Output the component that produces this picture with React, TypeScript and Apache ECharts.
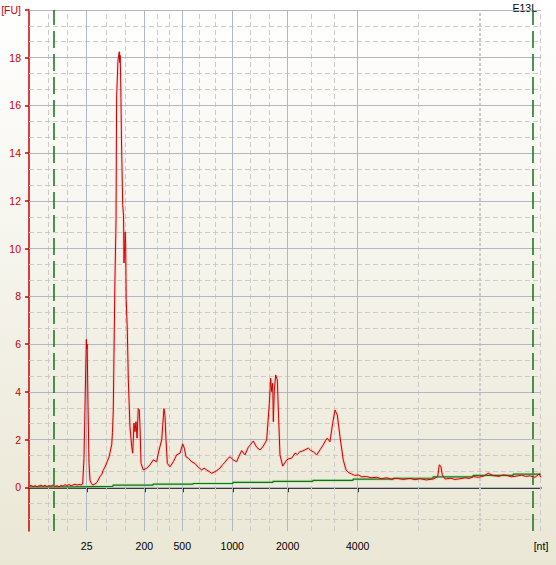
import React, { useEffect, useRef } from "react";
import * as echarts from "echarts";

// Migration time (s) and fluorescence (FU) of the sample trace
const traceTime = [
  17.0, 17.2, 17.39, 17.59, 17.78, 17.98, 18.17, 18.37, 18.56, 18.76, 18.95, 19.15, 19.34, 19.54, 19.73, 19.93,
  20.13, 20.32, 20.52, 20.71, 20.91, 21.11, 21.3, 21.5, 21.69, 21.88, 22.08, 22.24, 22.37, 22.52, 22.6, 22.65,
  22.68, 22.76, 22.86, 22.96, 23.1, 23.25, 23.44, 23.63, 23.93, 24.12, 24.23, 24.42, 24.61, 24.8, 24.91, 25.08,
  25.15, 25.23, 25.33, 25.39, 25.5, 25.53, 25.56, 25.69, 25.82, 25.86, 25.9, 25.94, 25.98, 26.03, 26.15, 26.23,
  26.28, 26.34, 26.39, 26.44, 26.49, 26.6, 26.7, 26.86, 27.03, 27.13, 27.25, 27.35, 27.45, 27.55, 27.67, 27.77,
  27.84, 27.94, 28.16, 28.49, 28.82, 29.14, 29.47, 29.63, 29.96, 30.18, 30.28, 30.38, 30.51, 30.77, 31.09, 31.42,
  31.75, 32.01, 32.17, 32.33, 32.56, 32.89, 33.21, 33.53, 33.87, 34.1, 34.35, 34.6, 34.84, 35.1, 35.33, 35.65,
  35.9, 36.14, 36.4, 36.63, 36.95, 37.28, 37.5, 37.77, 38.09, 38.42, 38.65, 38.9, 39.23, 39.56, 39.75, 39.95,
  40.21, 40.47, 40.6, 40.7, 40.8, 40.86, 40.96, 41.09, 41.25, 41.35, 41.51, 41.78, 42.17, 42.4, 42.65, 42.98,
  43.2, 43.46, 43.7, 43.95, 44.28, 44.5, 44.76, 45.1, 45.42, 45.74, 45.95, 46.13, 46.39, 46.66, 46.88, 47.11,
  47.37, 47.69, 47.96, 48.2, 48.51, 48.8, 49.16, 49.5, 49.98, 50.4, 50.96, 51.4, 51.93, 52.4, 52.91, 53.5,
  54.21, 54.7, 55.18, 55.8, 56.48, 56.91, 57.07, 57.21, 57.36, 57.63, 58.2, 58.6, 59.09, 59.6, 60.0, 60.39,
  60.9, 61.4, 61.85, 62.34, 62.9, 63.3, 63.65, 64.1, 64.63, 65.1, 65.5, 65.93, 66.41, 66.83, 66.98,
];
const traceFU = [
  0.05, 0.08, 0.03, 0.07, 0.02, 0.06, 0.09, 0.04, 0.08, 0.03, 0.07, 0.05, 0.1, 0.04, 0.06, 0.02,
  0.08, 0.05, 0.11, 0.07, 0.12, 0.06, 0.1, 0.13, 0.09, 0.12, 0.1, 0.14, 1.2, 4.5, 6.2, 5.8,
  6.0, 3.5, 1.0, 0.3, 0.15, 0.1, 0.14, 0.2, 0.45, 0.55, 0.7, 0.85, 1.05, 1.25, 1.45, 1.8,
  2.3, 3.2, 6.6, 8.6, 11.2, 14.0, 16.4, 17.9, 18.25, 17.8, 18.1, 17.4, 16.3, 14.6, 11.85, 11.4,
  9.4, 10.1, 10.7, 10.2, 7.9, 6.6, 4.5, 2.54, 1.7, 1.43, 2.69, 2.33, 2.75, 2.06, 3.3, 3.24,
  2.54, 1.0, 0.73, 0.8, 0.94, 1.15, 1.07, 1.43, 2.0, 3.3, 3.0, 2.0, 1.0, 0.86, 1.07, 1.36,
  1.43, 1.82, 1.64, 1.28, 1.22, 1.07, 1.0, 0.84, 0.73, 0.8, 0.73, 0.66, 0.59, 0.64, 0.7, 0.8,
  0.95, 1.05, 1.2, 1.28, 1.15, 1.07, 1.3, 1.54, 1.36, 1.68, 1.8, 1.94, 1.68, 1.57, 1.65, 1.78,
  1.98, 3.52, 4.57, 4.01, 4.36, 2.75, 4.08, 4.71, 4.5, 3.24, 1.36, 0.89, 1.15, 1.2, 1.22, 1.43,
  1.38, 1.49, 1.52, 1.57, 1.64, 1.55, 1.49, 1.36, 1.57, 1.78, 1.95, 2.06, 1.91, 2.69, 3.24, 3.03,
  2.12, 1.15, 0.73, 0.62, 0.56, 0.5, 0.52, 0.44, 0.45, 0.4, 0.42, 0.36, 0.4, 0.34, 0.38, 0.33,
  0.37, 0.32, 0.36, 0.31, 0.35, 0.45, 0.94, 0.89, 0.52, 0.35, 0.38, 0.33, 0.36, 0.4, 0.37, 0.45,
  0.42, 0.47, 0.59, 0.49, 0.46, 0.52, 0.5, 0.44, 0.47, 0.51, 0.46, 0.48, 0.42, 0.56, 0.42,
];

// Stepped baseline (green)
const baselineTime = [17.0, 21.3, 25.2, 29.11, 33.02, 36.92, 40.83, 44.73, 48.64, 52.55, 56.45, 60.36, 64.27, 66.98];
const baselineFU = [0.02, 0.04, 0.09, 0.13, 0.16, 0.21, 0.25, 0.29, 0.34, 0.38, 0.44, 0.5, 0.55, 0.55];

// Ladder positions on the time axis and their size labels (nt)
const ladderTimes = [22.63, 28.26, 31.97, 36.85, 42.26, 49.1];
const ladderLabels = ["25", "200", "500", "1000", "2000", "4000"];
const extraDashedTimes = [55.02, 66.97];
const dottedTimes = [61.04];
const markerTimes = [19.37, 66.15];
const yMajorTicks = [0, 2, 4, 6, 8, 10, 12, 14, 16, 18, 20];

const X_MIN = 17;
const X_MAX = 67;
const Y_MIN = -1.83;
const Y_MAX = 20;

const SOLID_GRID = "#B2B7C4";
const DASH_GRID = "#CBCBC8";
const FONT = '"Liberation Sans", Arial, sans-serif';

export default function App() {
  const ref = useRef<HTMLDivElement>(null);

  useEffect(() => {
    if (!ref.current) return;
    const chart = echarts.init(ref.current, undefined, { renderer: "svg" });

    const trace = traceTime.map((t, i) => [t, traceFU[i]]);
    const base = baselineTime.map((t, i) => [t, baselineFU[i]]);

    // vertical grid: thirds between ladder positions
    const bounds = [X_MIN, ...ladderTimes];
    const thirds: number[] = [];
    for (let i = 0; i < bounds.length - 1; i++) {
      const a = bounds[i];
      const b = bounds[i + 1];
      thirds.push(a + (b - a) / 3, a + (2 * (b - a)) / 3);
    }
    const hDashed: number[] = [];
    for (let k = -2; k <= 29; k++) {
      if (k % 3 !== 0) hDashed.push((k * 2) / 3);
    }

    const dashStyle = { color: DASH_GRID, type: [5, 3] as any, width: 1 };
    const solidStyle = { color: SOLID_GRID, type: "solid" as any, width: 1 };

    const gridLines: any[] = [
      ...hDashed.map((v) => ({ yAxis: v, lineStyle: dashStyle })),
      ...thirds.map((v) => ({ xAxis: v, lineStyle: dashStyle })),
      ...extraDashedTimes.map((v) => ({ xAxis: v, lineStyle: dashStyle })),
      ...dottedTimes.map((v) => ({ xAxis: v, lineStyle: { color: DASH_GRID, type: [3, 2], width: 2 } })),
      ...yMajorTicks.map((v) => ({ yAxis: v, lineStyle: solidStyle })),
      ...ladderTimes.map((v) => ({ xAxis: v, lineStyle: solidStyle })),
    ];

    const findLabel = (v: number) => {
      const i = ladderTimes.findIndex((t) => Math.abs(t - v) < 1e-6);
      if (i >= 0) return ladderLabels[i];
      if (Math.abs(v - X_MAX) < 1e-6) return "[nt]";
      return "";
    };

    chart.setOption({
      animation: false,
      backgroundColor: new echarts.graphic.LinearGradient(0, 0, 0, 1, [
        { offset: 0, color: "#FFFFFF" },
        { offset: 1, color: "#EAE7D5" },
      ]),
      grid: { left: 29, right: 15, top: 10, bottom: 34, containLabel: false, outerBoundsMode: "none" },
      xAxis: {
        type: "value",
        min: X_MIN,
        max: X_MAX,
        axisLine: { show: true, lineStyle: { color: "#000000", width: 1.5 } },
        axisTick: {
          show: true,
          length: 5,
          customValues: ladderTimes,
          lineStyle: { color: "#000000", width: 1.5 },
        },
        axisLabel: {
          show: true,
          customValues: [...ladderTimes, X_MAX],
          formatter: (v: number) => findLabel(v),
          color: "#000000",
          fontSize: 10.5,
          fontFamily: FONT,
          margin: 9,
        },
        splitLine: { show: false },
      },
      yAxis: {
        type: "value",
        min: Y_MIN,
        max: Y_MAX,
        axisLine: { show: true, lineStyle: { color: "#CC0000", width: 1.5 } },
        axisTick: {
          show: true,
          length: 4,
          customValues: yMajorTicks,
          lineStyle: { color: "#CC0000", width: 1.5 },
        },
        axisLabel: {
          show: true,
          customValues: yMajorTicks,
          formatter: (v: number) => (v === 20 ? "[FU]" : String(v)),
          color: "#CC0000",
          fontSize: 10.5,
          fontFamily: FONT,
          margin: 8,
        },
        splitLine: { show: false },
      },
      graphic: [
        {
          type: "text",
          x: 537,
          y: 2,
          style: {
            text: "E13L",
            fill: "#000000",
            font: `10.5px ${FONT}`,
            align: "right",
            verticalAlign: "top",
          },
        },
      ],
      series: [
        {
          name: "grid",
          type: "line",
          data: [],
          silent: true,
          z: 1,
          markLine: {
            silent: true,
            z: 1,
            symbol: ["none", "none"],
            label: { show: false },
            emphasis: { disabled: true },
            data: gridLines,
          },
        },
        {
          name: "baselineGlow",
          type: "line",
          data: base,
          step: "end",
          symbol: "none",
          silent: true,
          z: 2,
          lineStyle: { color: "rgba(140,235,140,0.5)", width: 3 },
        },
        {
          name: "baseline",
          type: "line",
          data: base,
          step: "end",
          symbol: "none",
          silent: true,
          z: 3,
          lineStyle: { color: "#1C6E1C", width: 1.2 },
          markLine: {
            silent: true,
            z: 2,
            symbol: ["none", "none"],
            label: { show: false },
            emphasis: { disabled: true },
            data: markerTimes.map((v) => ({
              xAxis: v,
              lineStyle: { color: "#16701A", type: [17, 6], width: 1.5 },
            })),
          },
        },
        {
          name: "traceGlow",
          type: "line",
          data: trace,
          symbol: "none",
          silent: true,
          z: 4,
          lineStyle: { color: "rgba(255,110,110,0.2)", width: 3 },
        },
        {
          name: "trace",
          type: "line",
          data: trace,
          symbol: "none",
          silent: true,
          z: 5,
          lineStyle: { color: "#CC0000", width: 1 },
        },
      ],
    });

    return () => chart.dispose();
  }, []);

  return (
    <div
      ref={ref}
      style={{ position: "fixed", left: 0, top: 0, width: 556, height: 565 }}
    />
  );
}
